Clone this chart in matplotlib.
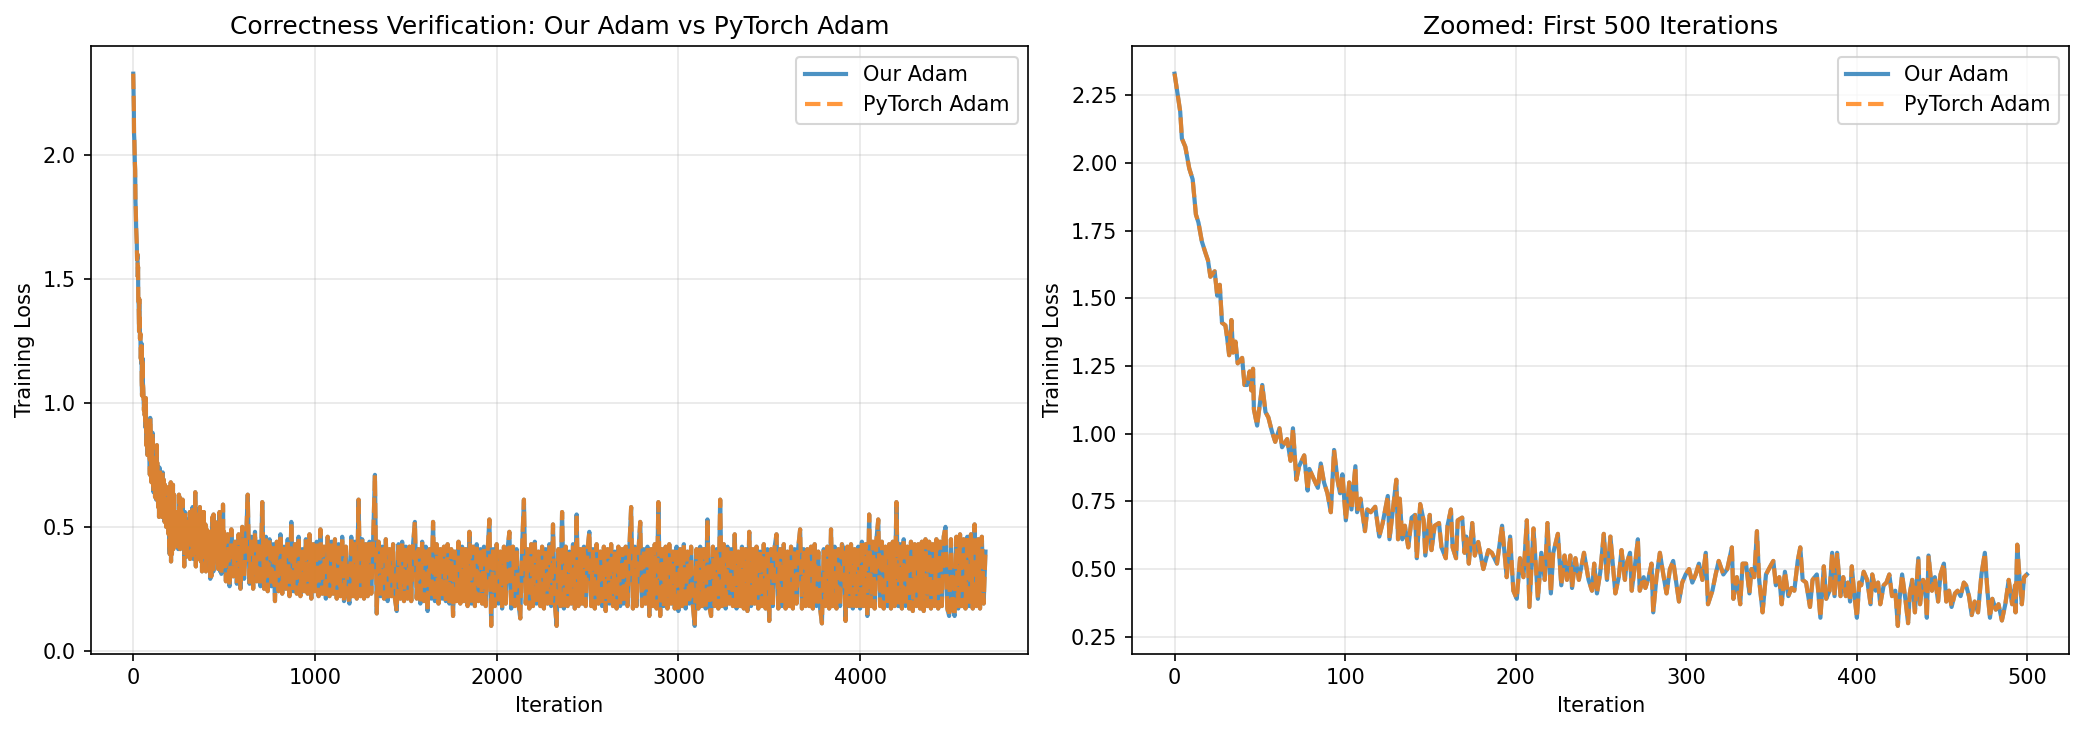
import matplotlib
matplotlib.use("Agg")
import matplotlib.pyplot as plt

# ---- Zoomed region: traced (iteration, loss) points for the first 500 iterations ----
zoom_iters = [
    0, 3.3, 4.3, 6.3, 8.6, 10.6, 12.5, 14, 16, 18, 19.6, 21, 23.5, 25, 26.5, 27.8, 29.8, 30.8, 32, 33.3,
    34.3, 35.7, 37, 39.6, 41, 42.5, 44, 45, 46, 46.5, 48.4, 51.4, 53.3, 55, 57, 59, 61.5, 63, 66, 68,
    69.4, 71.4, 73, 76, 78, 79, 81.8, 84, 85.7, 87.6, 89.6, 91.6, 93.5, 95.5, 97, 98.4, 100.4, 102.4, 103.7, 106,
    107, 109, 111.6, 113, 115, 117.6, 120, 122, 125, 126, 130, 131, 132, 133.5, 135, 137, 139, 141, 142, 144,
    146, 147, 149.6, 150.6, 152.5, 155, 156.5, 159, 160, 162, 163, 165, 166, 168.6, 170, 171, 172.5, 174.5, 176, 178,
    181, 184, 186, 189, 192, 194.7, 196.7, 198.6, 200.6, 202.5, 204.5, 206.5, 208, 210.4, 213, 215, 217, 218.6, 220.6, 222,
    224.7, 226.7, 228.6, 230, 232, 233, 235, 237, 240, 242.7, 244.7, 246, 247.6, 249.6, 251.6, 253.5, 255.5, 258.4, 260.4, 262,
    264, 265, 267, 268, 270, 271.6, 272.7, 275, 276, 278, 279.6, 280.6, 282.5, 284.5, 286.5, 288.4, 290.4, 292.3, 294.3, 295.7,
    297.6, 299.6, 301.6, 303.5, 305.5, 307.4, 309.4, 311.4, 312.7, 315.3, 317.2, 319, 321.7, 324, 326.7, 327.6, 329.6, 331.6, 333, 335,
    337, 338.2, 339.8, 341.4, 342.7, 344.7, 346.7, 349.2, 351, 352.5, 354.5, 355.9, 357.8, 359.8, 361.7, 363.3, 365.3, 366.8, 368.2, 370.2,
    372.5, 374, 376.5, 378.6, 380.6, 382, 384, 385.5, 386.9, 388.4, 390.4, 392, 393.5, 394.7, 396, 397, 398.6, 400, 401.4, 402.5,
    404, 406, 408, 409, 411, 412.4, 413.7, 415.7, 417.3, 419, 420.6, 422.5, 424, 425, 426.5, 428.4, 430, 431, 432.4, 434,
    436, 437, 438.8, 440, 441, 442, 444, 445.7, 447.6, 449, 451, 452.4, 454, 455.5, 457.5, 459, 460.8, 462.7, 464, 465.7,
    467.3, 469, 471, 473, 475, 476.5, 478, 479.4, 481.4, 483, 485, 487, 489, 491, 492.7, 493, 494, 495.5, 496.7, 498,
    499.6,
]
zoom_loss = [
    2.33, 2.19, 2.09, 2.06, 1.98, 1.94, 1.81, 1.78, 1.71, 1.67, 1.64, 1.58, 1.60, 1.51, 1.55, 1.41, 1.40, 1.355, 1.29, 1.42,
    1.30, 1.34, 1.26, 1.28, 1.18, 1.18, 1.23, 1.16, 1.24, 1.09, 1.03, 1.18, 1.08, 1.06, 1.01, 0.97, 1.02, 0.95, 0.98, 0.90,
    1.02, 0.83, 0.88, 0.92, 0.79, 0.87, 0.83, 0.80, 0.89, 0.82, 0.78, 0.71, 0.94, 0.83, 0.78, 0.85, 0.68, 0.82, 0.72, 0.88,
    0.71, 0.76, 0.64, 0.72, 0.71, 0.73, 0.62, 0.67, 0.77, 0.61, 0.83, 0.61, 0.76, 0.61, 0.66, 0.58, 0.69, 0.70, 0.54, 0.74,
    0.68, 0.55, 0.70, 0.57, 0.66, 0.67, 0.58, 0.54, 0.66, 0.72, 0.58, 0.54, 0.68, 0.69, 0.56, 0.62, 0.52, 0.67, 0.55, 0.60,
    0.50, 0.57, 0.56, 0.52, 0.66, 0.47, 0.62, 0.42, 0.39, 0.54, 0.47, 0.68, 0.36, 0.65, 0.39, 0.56, 0.46, 0.67, 0.41, 0.56,
    0.63, 0.44, 0.55, 0.46, 0.55, 0.43, 0.54, 0.46, 0.56, 0.46, 0.42, 0.52, 0.41, 0.49, 0.63, 0.46, 0.62, 0.41, 0.47, 0.57,
    0.46, 0.52, 0.56, 0.42, 0.52, 0.61, 0.42, 0.47, 0.43, 0.47, 0.52, 0.34, 0.47, 0.56, 0.48, 0.41, 0.50, 0.53, 0.44, 0.38,
    0.45, 0.48, 0.50, 0.45, 0.48, 0.52, 0.46, 0.56, 0.37, 0.42, 0.48, 0.53, 0.48, 0.50, 0.58, 0.39, 0.47, 0.37, 0.52, 0.52,
    0.41, 0.50, 0.47, 0.64, 0.46, 0.34, 0.48, 0.51, 0.53, 0.44, 0.47, 0.37, 0.49, 0.40, 0.43, 0.42, 0.53, 0.58, 0.46, 0.45,
    0.36, 0.46, 0.48, 0.32, 0.51, 0.39, 0.42, 0.56, 0.40, 0.56, 0.40, 0.47, 0.40, 0.45, 0.38, 0.51, 0.40, 0.32, 0.45, 0.44,
    0.49, 0.46, 0.37, 0.48, 0.42, 0.45, 0.37, 0.44, 0.45, 0.48, 0.40, 0.42, 0.29, 0.39, 0.48, 0.39, 0.30, 0.41, 0.46, 0.34,
    0.54, 0.37, 0.46, 0.44, 0.32, 0.55, 0.42, 0.47, 0.38, 0.48, 0.52, 0.38, 0.42, 0.36, 0.41, 0.42, 0.40, 0.45, 0.44, 0.40,
    0.33, 0.38, 0.34, 0.48, 0.56, 0.42, 0.32, 0.39, 0.35, 0.37, 0.31, 0.37, 0.46, 0.37, 0.44, 0.34, 0.59, 0.45, 0.37, 0.47,
    0.48,
]

# ---- Full run beyond iteration 500: traced band values (every 10 iterations) ----
tail_iters = list(range(510, 4691, 10))
tail_loss = [
    0.28, 0.47, 0.26, 0.49, 0.30, 0.44, 0.27, 0.47, 0.25, 0.50, 0.29, 0.43, 0.63, 0.27, 0.46, 0.25, 0.48, 0.28, 0.44, 0.26,
    0.60, 0.25, 0.46, 0.24, 0.45, 0.26, 0.43, 0.20, 0.44, 0.24, 0.47, 0.23, 0.42, 0.25, 0.45, 0.22, 0.52, 0.24, 0.43, 0.23,
    0.46, 0.22, 0.41, 0.24, 0.45, 0.23, 0.47, 0.21, 0.43, 0.24, 0.44, 0.22, 0.49, 0.23, 0.42, 0.21, 0.46, 0.22, 0.44, 0.23,
    0.45, 0.21, 0.43, 0.22, 0.46, 0.20, 0.42, 0.23, 0.19, 0.46, 0.22, 0.44, 0.21, 0.61, 0.22, 0.45, 0.21, 0.43, 0.22, 0.44,
    0.23, 0.44, 0.71, 0.15, 0.44, 0.22, 0.42, 0.21, 0.45, 0.20, 0.41, 0.22, 0.43, 0.21, 0.16, 0.43, 0.21, 0.44, 0.20, 0.42,
    0.21, 0.42, 0.20, 0.43, 0.52, 0.21, 0.41, 0.19, 0.44, 0.20, 0.42, 0.16, 0.41, 0.21, 0.52, 0.20, 0.43, 0.19, 0.41, 0.21,
    0.42, 0.20, 0.43, 0.19, 0.41, 0.14, 0.40, 0.20, 0.44, 0.19, 0.42, 0.20, 0.41, 0.18, 0.48, 0.19, 0.42, 0.18, 0.43, 0.20,
    0.41, 0.19, 0.42, 0.18, 0.40, 0.53, 0.10, 0.41, 0.18, 0.43, 0.19, 0.40, 0.17, 0.42, 0.19, 0.41, 0.48, 0.17, 0.42, 0.18,
    0.41, 0.19, 0.13, 0.42, 0.61, 0.19, 0.41, 0.17, 0.43, 0.18, 0.44, 0.19, 0.40, 0.18, 0.42, 0.17, 0.41, 0.19, 0.43, 0.18,
    0.51, 0.19, 0.10, 0.41, 0.18, 0.56, 0.17, 0.42, 0.18, 0.40, 0.19, 0.43, 0.17, 0.55, 0.18, 0.41, 0.19, 0.42, 0.18, 0.41,
    0.48, 0.18, 0.41, 0.17, 0.43, 0.19, 0.40, 0.18, 0.42, 0.16, 0.41, 0.19, 0.43, 0.18, 0.40, 0.17, 0.42, 0.18, 0.41, 0.19,
    0.42, 0.18, 0.41, 0.58, 0.17, 0.42, 0.18, 0.40, 0.52, 0.18, 0.41, 0.19, 0.42, 0.14, 0.41, 0.18, 0.43, 0.17, 0.60, 0.14,
    0.41, 0.18, 0.42, 0.17, 0.43, 0.19, 0.40, 0.17, 0.42, 0.16, 0.41, 0.18, 0.43, 0.17, 0.40, 0.19, 0.42, 0.18, 0.10, 0.41,
    0.17, 0.42, 0.18, 0.41, 0.17, 0.53, 0.18, 0.14, 0.42, 0.18, 0.41, 0.17, 0.61, 0.18, 0.43, 0.17, 0.42, 0.19, 0.41, 0.18,
    0.47, 0.17, 0.40, 0.18, 0.42, 0.17, 0.41, 0.16, 0.48, 0.18, 0.41, 0.19, 0.42, 0.17, 0.40, 0.18, 0.43, 0.17, 0.41, 0.12,
    0.41, 0.18, 0.42, 0.47, 0.17, 0.41, 0.18, 0.43, 0.17, 0.40, 0.18, 0.42, 0.17, 0.41, 0.19, 0.42, 0.49, 0.17, 0.41, 0.18,
    0.41, 0.18, 0.42, 0.17, 0.43, 0.18, 0.40, 0.17, 0.11, 0.41, 0.18, 0.42, 0.17, 0.49, 0.18, 0.42, 0.17, 0.41, 0.18, 0.43,
    0.41, 0.12, 0.42, 0.18, 0.43, 0.17, 0.41, 0.18, 0.42, 0.17, 0.44, 0.18, 0.43, 0.14, 0.55, 0.18, 0.44, 0.17, 0.45, 0.53,
    0.18, 0.44, 0.17, 0.42, 0.18, 0.43, 0.17, 0.44, 0.18, 0.60, 0.18, 0.43, 0.17, 0.45, 0.18, 0.42, 0.17, 0.44, 0.16, 0.43,
    0.18, 0.43, 0.17, 0.44, 0.16, 0.45, 0.18, 0.44, 0.17, 0.43, 0.18, 0.45, 0.17, 0.44, 0.18, 0.46, 0.50, 0.17, 0.14, 0.45,
    0.17, 0.14, 0.46, 0.17, 0.47, 0.18, 0.45, 0.17, 0.46, 0.18, 0.47, 0.17, 0.51, 0.18, 0.45, 0.17, 0.46, 0.19, 0.40,
]

full_iters = zoom_iters + tail_iters
our_adam_loss = zoom_loss + tail_loss
pytorch_adam_loss = list(our_adam_loss)  # curves coincide in the reference

fig, axes = plt.subplots(1, 2, figsize=(2084 / 150, 731 / 150), dpi=150)

ax = axes[0]
ax.plot(full_iters, our_adam_loss, color="#1f77b4", lw=2, alpha=0.8, label="Our Adam")
ax.plot(full_iters, pytorch_adam_loss, color="#ff7f0e", lw=2, ls="--", alpha=0.8, label="PyTorch Adam")
ax.set_title("Correctness Verification: Our Adam vs PyTorch Adam", fontsize=12)
ax.set_xlabel("Iteration")
ax.set_ylabel("Training Loss")
ax.grid(True, alpha=0.3)
ax.legend(loc="upper right")

ax = axes[1]
ax.plot(zoom_iters, zoom_loss, color="#1f77b4", lw=2, alpha=0.8, label="Our Adam")
ax.plot(zoom_iters, zoom_loss, color="#ff7f0e", lw=2, ls="--", alpha=0.8, label="PyTorch Adam")
ax.set_title("Zoomed: First 500 Iterations", fontsize=12)
ax.set_xlabel("Iteration")
ax.set_ylabel("Training Loss")
ax.grid(True, alpha=0.3)
ax.legend(loc="upper right")

fig.tight_layout(pad=0.7)
fig.savefig("out.png", dpi=150)
